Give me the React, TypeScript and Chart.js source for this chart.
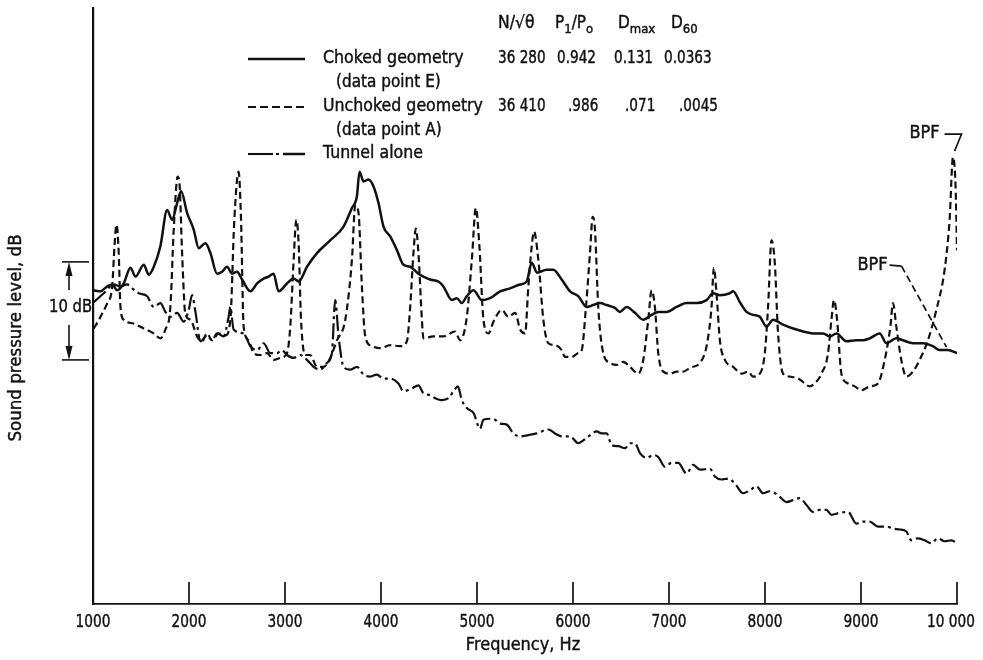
import React, { useEffect, useRef } from "react";
import { Chart, registerables } from "chart.js";

Chart.register(...registerables);

// ---------- Data (frequency in Hz, sound pressure level in dB, arbitrary reference) ----------
const chokedHz = [
  1005, 1078, 1148, 1200, 1252, 1320, 1390, 1442, 1529, 1581,
  1633, 1702, 1772, 1824, 1876, 1918, 1980, 2049, 2101, 2171,
  2223, 2292, 2344, 2396, 2449, 2501, 2553, 2639, 2709, 2777,
  2829, 2881, 2933, 3021, 3090, 3142, 3229, 3333, 3471, 3610,
  3697, 3749, 3776, 3818, 3870, 3922, 3974, 4026, 4096, 4166,
  4234, 4304, 4390, 4442, 4512, 4598, 4650, 4738, 4790, 4842,
  4894, 4963, 5050, 5136, 5241, 5345, 5449, 5518, 5570, 5626,
  5726, 5795, 5882, 5969, 6055, 6143, 6211, 6281, 6351, 6437,
  6489, 6559, 6645, 6732, 6819, 6888, 6975, 7079, 7183, 7287,
  7391, 7460, 7530, 7634, 7668, 7738, 7808, 7876, 7946, 8016,
  8084, 8188, 8293, 8397, 8501, 8605, 8675, 8744, 8848, 8952,
  9021, 9091, 9195, 9264, 9368, 9437, 9541, 9645, 9749, 9819,
  9905, 10000,
];
const chokedDb = [
  32.0, 31.9, 32.4, 32.6, 32.0, 32.7, 34.3, 33.4, 34.6, 33.6,
  34.4, 36.5, 40.2, 39.2, 40.9, 42.1, 39.9, 38.2, 36.3, 36.8,
  35.8, 33.7, 33.9, 34.4, 33.7, 33.9, 33.1, 31.9, 32.7, 33.2,
  33.4, 33.7, 31.9, 32.7, 33.2, 32.9, 34.4, 35.8, 37.1, 38.5,
  40.4, 41.6, 44.1, 43.1, 43.3, 42.6, 40.9, 38.5, 37.5, 36.1,
  34.6, 34.4, 33.7, 33.4, 33.1, 32.9, 32.4, 31.0, 31.2, 30.7,
  31.4, 32.0, 31.0, 31.2, 31.9, 32.2, 32.6, 32.9, 34.8, 33.8,
  34.1, 34.1, 33.1, 31.9, 31.4, 30.3, 30.5, 30.7, 30.5, 30.2,
  29.8, 30.3, 29.7, 29.0, 29.5, 29.8, 29.8, 30.3, 30.7, 30.7,
  31.0, 31.7, 31.5, 31.7, 31.9, 30.8, 29.8, 29.5, 29.3, 28.3,
  29.0, 28.5, 28.1, 27.8, 27.6, 27.6, 27.3, 27.6, 26.8, 26.9,
  26.9, 27.1, 27.6, 26.6, 27.1, 26.9, 26.6, 26.6, 26.3, 25.9,
  25.9, 25.6,
];

const unchokedHz = [
  1008, 1078, 1148, 1200, 1224, 1245, 1268, 1286, 1320, 1425,
  1529, 1633, 1702, 1754, 1806, 1841, 1882, 1903, 1928, 1963,
  2015, 2084, 2136, 2188, 2240, 2309, 2379, 2431, 2472, 2517,
  2542, 2569, 2621, 2673, 2743, 2813, 2881, 2951, 3021, 3055,
  3090, 3118, 3142, 3167, 3211, 3263, 3333, 3402, 3471, 3541,
  3628, 3697, 3732, 3766, 3801, 3836, 3905, 3992, 4096, 4200,
  4270, 4304, 4338, 4363, 4390, 4426, 4442, 4546, 4650, 4772,
  4824, 4894, 4946, 4988, 5025, 5067, 5119, 5171, 5258, 5327,
  5397, 5449, 5501, 5535, 5570, 5594, 5639, 5691, 5743, 5813,
  5882, 5917, 5987, 6055, 6091, 6135, 6177, 6205, 6229, 6263,
  6315, 6385, 6455, 6523, 6593, 6680, 6732, 6784, 6819, 6853,
  6888, 6940, 7010, 7079, 7148, 7218, 7322, 7391, 7443, 7467,
  7495, 7530, 7582, 7668, 7756, 7824, 7876, 7946, 7998, 8032,
  8068, 8102, 8136, 8188, 8258, 8362, 8466, 8518, 8588, 8657,
  8692, 8719, 8751, 8796, 8865, 8935, 9004, 9091, 9177, 9247,
  9306, 9333, 9368, 9420, 9472, 9541, 9611, 9697, 9785, 9871,
  9923, 9958, 9985, 10000,
];
const unchokedDb = [
  28.1, 29.3, 30.7, 32.4, 36.5, 38.7, 35.8, 30.3, 29.0, 28.6,
  28.1, 27.6, 27.1, 28.0, 30.3, 38.2, 43.6, 42.6, 35.8, 29.5,
  29.0, 27.3, 26.8, 27.6, 26.9, 27.6, 27.4, 29.0, 39.2, 44.1,
  39.2, 28.3, 26.9, 25.6, 25.4, 25.6, 24.9, 25.1, 25.6, 28.3,
  35.1, 39.2, 36.8, 29.0, 25.4, 25.4, 24.2, 24.2, 25.1, 26.9,
  29.0, 35.1, 40.7, 39.9, 32.4, 27.3, 26.3, 26.1, 26.4, 26.3,
  26.8, 30.3, 35.8, 38.3, 35.8, 29.0, 27.1, 27.3, 27.3, 27.8,
  26.9, 29.3, 35.1, 40.4, 36.5, 29.0, 27.6, 28.8, 30.0, 29.3,
  29.7, 28.0, 27.6, 32.4, 36.5, 38.0, 35.1, 29.0, 26.6, 26.4,
  25.9, 25.2, 25.2, 25.6, 25.9, 30.3, 35.8, 39.5, 38.2, 30.3,
  25.6, 24.6, 24.4, 24.7, 24.2, 23.5, 24.9, 29.0, 32.0, 30.3,
  25.6, 23.7, 23.5, 23.7, 23.7, 24.1, 24.6, 26.3, 30.3, 34.3,
  31.7, 26.9, 24.9, 24.2, 23.5, 23.7, 23.2, 23.5, 25.6, 30.3,
  37.1, 34.8, 27.6, 23.5, 23.2, 22.9, 22.2, 22.5, 23.5, 25.6,
  29.0, 31.0, 29.0, 23.5, 22.5, 22.2, 21.8, 22.2, 22.5, 24.9,
  28.3, 30.7, 28.3, 24.9, 23.2, 23.7, 24.9, 26.9, 30.0, 34.1,
  39.2, 45.6, 42.6, 36.1,
];

const tunnelHz = [
  1008, 1112, 1216, 1286, 1356, 1408, 1477, 1564, 1633, 1702,
  1754, 1806, 1876, 1945, 1997, 2032, 2067, 2119, 2188, 2240,
  2292, 2361, 2413, 2431, 2465, 2569, 2639, 2709, 2777, 2847,
  2917, 2969, 3021, 3090, 3159, 3229, 3298, 3367, 3437, 3489,
  3523, 3558, 3610, 3680, 3749, 3818, 3888, 3957, 4026, 4096,
  4182, 4234, 4322, 4390, 4442, 4512, 4564, 4634, 4703, 4762,
  4800, 4842, 4894, 4963, 5032, 5067, 5136, 5188, 5241, 5310,
  5379, 5449, 5518, 5622, 5743, 5813, 5882, 5969, 6055, 6107,
  6177, 6247, 6299, 6351, 6403, 6472, 6541, 6593, 6645, 6697,
  6767, 6836, 6888, 6957, 7027, 7096, 7183, 7252, 7322, 7426,
  7478, 7547, 7616, 7686, 7772, 7842, 7912, 7980, 8050, 8136,
  8224, 8293, 8362, 8432, 8501, 8570, 8640, 8692, 8779, 8865,
  8952, 9021, 9091, 9177, 9264, 9333, 9403, 9472, 9525, 9593,
  9662, 9732, 9801, 9871, 9941, 10000,
];
const tunnelDb = [
  30.8, 31.7, 32.6, 32.4, 32.6, 32.2, 31.7, 31.4, 30.3, 30.7,
  29.8, 29.3, 29.7, 28.8, 30.0, 31.5, 29.8, 26.8, 27.4, 26.9,
  27.6, 27.3, 29.3, 30.3, 28.0, 27.6, 26.3, 25.9, 26.6, 25.6,
  25.6, 25.9, 25.4, 25.1, 25.4, 24.9, 24.2, 23.9, 24.6, 25.6,
  31.0, 27.3, 24.2, 23.9, 24.2, 23.4, 23.2, 23.4, 23.0, 23.0,
  22.5, 21.7, 22.0, 22.3, 21.5, 21.3, 21.0, 20.8, 21.0, 21.8,
  22.2, 20.8, 20.0, 19.5, 17.9, 18.8, 18.9, 18.8, 18.4, 18.3,
  17.4, 17.1, 17.2, 17.4, 17.8, 17.4, 17.1, 17.1, 16.4, 16.7,
  17.2, 17.6, 17.4, 17.4, 16.2, 16.1, 15.9, 16.4, 16.4, 15.4,
  14.9, 15.2, 15.0, 14.0, 14.4, 14.4, 13.3, 14.2, 13.7, 13.8,
  13.0, 12.7, 12.8, 12.3, 11.3, 11.6, 12.0, 11.3, 11.5, 11.1,
  10.4, 10.6, 10.8, 10.1, 9.4, 9.6, 9.6, 9.1, 9.3, 9.4,
  8.2, 8.4, 8.4, 7.9, 7.9, 7.7, 7.6, 7.4, 6.5, 6.7,
  6.5, 6.2, 6.7, 6.4, 6.5, 6.2,
];

const xTicks = [1000, 2000, 3000, 4000, 5000, 6000, 7000, 8000, 9000, 10000];
const xTickLabels = ["1000", "2000", "3000", "4000", "5000", "6000", "7000", "8000", "9000", "10 000"];
const xRange = [1000, 10000];
const yRange = [0, 60.8];
const scaleBarDb = [24.9, 34.9]; // the "10 dB" reference bar

const legendLabels = ["Choked geometry", "Unchoked geometry", "Tunnel alone"];
const legendNotes = ["(data point E)", "(data point A)"];
const chokedValues = ["36 280", "0.942", "0.131", "0.0363"];
const unchokedValues = ["36 410", ".986", ".071", ".0045"];

// BPF annotation anchors [Hz, dB]
const bpfLower = [9891, 26.2];
const bpfUpper = [9985, 46.0];

const FONT = '"DejaVu Sans", "Noto Sans", sans-serif';
const INK = "#111111";

function drawText(
  ctx: CanvasRenderingContext2D,
  s: string,
  x: number,
  y: number,
  size: number,
  align: "left" | "center" | "right" = "left",
  sx = 0.85
) {
  ctx.save();
  ctx.font = `${size}px ${FONT}`;
  ctx.textBaseline = "middle";
  ctx.textAlign = "left";
  const w = ctx.measureText(s).width * sx;
  const left = align === "center" ? x - w / 2 : align === "right" ? x - w : x;
  ctx.translate(left, y);
  ctx.scale(sx, 1);
  ctx.lineWidth = 0.45;
  ctx.lineJoin = "round";
  ctx.fillText(s, 0, 0);
  ctx.strokeText(s, 0, 0);
  ctx.restore();
  return w;
}

function drawRich(ctx: CanvasRenderingContext2D, parts: [string, boolean][], x: number, y: number, size: number, sx: number) {
  let cx = x;
  for (const [t, sub] of parts) {
    cx += drawText(ctx, t, cx, sub ? y + 6 : y, sub ? Math.round(size * 0.75) : size, "left", sx);
  }
}

function line(ctx: CanvasRenderingContext2D, pts: number[][], dash: number[] = [], width = 1.6) {
  ctx.save();
  ctx.setLineDash(dash);
  ctx.lineWidth = width;
  ctx.beginPath();
  pts.forEach((p, i) => (i ? ctx.lineTo(p[0], p[1]) : ctx.moveTo(p[0], p[1])));
  ctx.stroke();
  ctx.restore();
}

const decorPlugin = {
  id: "decor",
  afterDraw(chart: any) {
    const { ctx, chartArea, scales } = chart;
    const xs = scales.x;
    const ys = scales.y;
    ctx.save();
    ctx.fillStyle = INK;
    ctx.strokeStyle = INK;

    // inside tick marks and tick labels
    xTicks.forEach((v, i) => {
      const px = xs.getPixelForValue(v);
      line(ctx, [[px, chartArea.bottom], [px, chartArea.bottom - 22]], [], 1.7);
      drawText(ctx, xTickLabels[i], px + (i === xTicks.length - 1 ? -6 : 0), chartArea.bottom + 18, 18, "center", 0.76);
    });

    // axis titles
    drawText(ctx, "Frequency, Hz", (chartArea.left + chartArea.right) / 2 - 2, chartArea.bottom + 42, 17, "center", 0.95);
    ctx.save();
    ctx.translate(17, 338);
    ctx.rotate(-Math.PI / 2);
    drawText(ctx, "Sound pressure level, dB", 0, 0, 17, "center", 0.98);
    ctx.restore();

    // 10 dB bar
    const yTop = ys.getPixelForValue(scaleBarDb[1]);
    const yBot = ys.getPixelForValue(scaleBarDb[0]);
    const ax = 69;
    line(ctx, [[62, yTop], [89, yTop]], [], 1.6);
    line(ctx, [[62, yBot], [89, yBot]], [], 1.6);
    line(ctx, [[ax, yTop + 6], [ax, yTop + 28]], [], 1.6);
    line(ctx, [[ax, yBot - 6], [ax, yBot - 35]], [], 1.6);
    ctx.beginPath();
    ctx.moveTo(ax, yTop);
    ctx.lineTo(ax - 3.5, yTop + 14);
    ctx.lineTo(ax + 3.5, yTop + 14);
    ctx.closePath();
    ctx.fill();
    ctx.beginPath();
    ctx.moveTo(ax, yBot);
    ctx.lineTo(ax - 3.5, yBot - 14);
    ctx.lineTo(ax + 3.5, yBot - 14);
    ctx.closePath();
    ctx.fill();
    drawText(ctx, "10 dB", 70.5, (yTop + yBot) / 2 - 3, 17, "center", 0.87);

    // legend / table
    const lx0 = 248, lx1 = 305, tx = 323;
    const rowHead = 24, rowC = 59, rowCn = 83, rowU = 107, rowUn = 131, rowT = 154;
    drawText(ctx, "N/\u221A\u03B8", 498, rowHead, 17, "left", 0.92);
    drawRich(ctx, [["P", false], ["1", true], ["/P", false], ["o", true]], 555, rowHead, 17, 0.9);
    drawRich(ctx, [["D", false], ["max", true]], 618, rowHead, 17, 0.9);
    drawRich(ctx, [["D", false], ["60", true]], 671, rowHead, 17, 0.9);

    line(ctx, [[lx0, rowC], [lx1, rowC]], [], 2.3);
    drawText(ctx, legendLabels[0], tx, rowC, 17, "left", 0.93);
    drawText(ctx, legendNotes[0], tx + 13, rowCn, 17, "left", 0.9);
    line(ctx, [[lx0, rowU], [lx1, rowU]], [8, 4], 2.1);
    drawText(ctx, legendLabels[1], tx, rowU, 17, "left", 0.93);
    drawText(ctx, legendNotes[1], tx + 13, rowUn, 17, "left", 0.9);
    line(ctx, [[lx0, rowT], [lx0 + 25, rowT]], [], 2.1);
    line(ctx, [[lx0 + 28, rowT], [lx0 + 31, rowT]], [], 2.1);
    line(ctx, [[lx0 + 35, rowT], [lx1, rowT]], [], 2.5);
    drawText(ctx, legendLabels[2], tx, rowT, 17, "left", 0.93);

    const colC = [498, 557, 614, 664];
    const colU = [498, 568, 625, 679];
    chokedValues.forEach((v, i) => drawText(ctx, v, colC[i], rowC, 17, "left", 0.8));
    unchokedValues.forEach((v, i) => drawText(ctx, v, colU[i], rowU, 17, "left", 0.8));

    // BPF annotations
    const lpx = xs.getPixelForValue(bpfLower[0]);
    const lpy = ys.getPixelForValue(bpfLower[1]);
    drawText(ctx, "BPF", lpx - 59, lpy - 82, 17, "right", 0.95);
    line(ctx, [[lpx - 57, lpy - 82], [lpx - 45, lpy - 81]], [], 1.6);
    line(ctx, [[lpx - 45, lpy - 81], [lpx, lpy]], [7, 4], 1.7);

    const upx = xs.getPixelForValue(bpfUpper[0]);
    const upy = ys.getPixelForValue(bpfUpper[1]);
    drawText(ctx, "BPF", upx - 16, upy - 20, 17, "right", 0.95);
    line(ctx, [[upx - 11, upy - 19], [upx + 6, upy - 19], [upx - 1, upy - 2]], [], 1.6);

    ctx.restore();
  },
};

function toPoints(xs: number[], ys: number[]) {
  return xs.map((x, i) => ({ x, y: ys[i] }));
}

export default function App() {
  const ref = useRef<HTMLCanvasElement>(null);

  useEffect(() => {
    if (!ref.current) return;
    const chart = new Chart(ref.current, {
      type: "line",
      data: {
        datasets: [
          {
            label: legendLabels[2],
            data: toPoints(tunnelHz, tunnelDb),
            borderColor: INK,
            borderWidth: 2.2,
            borderDash: [16, 4, 3, 4],
            pointRadius: 0,
            cubicInterpolationMode: "monotone",
          },
          {
            label: legendLabels[1],
            data: toPoints(unchokedHz, unchokedDb),
            borderColor: INK,
            borderWidth: 2.2,
            borderDash: [7, 4],
            pointRadius: 0,
            cubicInterpolationMode: "monotone",
          },
          {
            label: legendLabels[0],
            data: toPoints(chokedHz, chokedDb),
            borderColor: INK,
            borderWidth: 2.5,
            pointRadius: 0,
            cubicInterpolationMode: "monotone",
          },
        ],
      },
      options: {
        animation: false,
        responsive: true,
        maintainAspectRatio: false,
        layout: { padding: { left: 93, right: 26, top: 8, bottom: 56 } },
        plugins: { legend: { display: false }, tooltip: { enabled: false } },
        scales: {
          x: {
            type: "linear",
            min: xRange[0],
            max: xRange[1],
            ticks: { display: false },
            grid: { display: false },
            border: { display: true, color: INK, width: 1.7 },
            afterFit: (s: any) => {
              s.height = 0;
            },
          },
          y: {
            type: "linear",
            min: yRange[0],
            max: yRange[1],
            ticks: { display: false },
            grid: { display: false },
            border: { display: true, color: INK, width: 2.2 },
            afterFit: (s: any) => {
              s.width = 0;
            },
          },
        },
      },
      plugins: [decorPlugin],
    } as any);
    return () => chart.destroy();
  }, []);

  return (
    <div style={{ position: "fixed", left: 0, top: 0, width: 983, height: 660, background: "#fff" }}>
      <canvas ref={ref} />
    </div>
  );
}
